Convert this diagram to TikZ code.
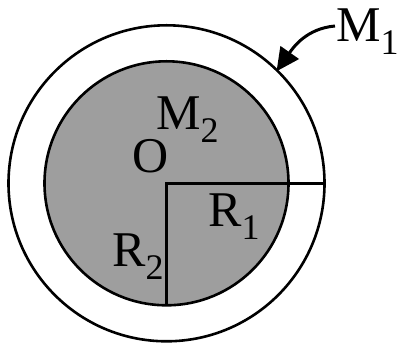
\documentclass[tikz,border=0pt]{standalone}
\usepackage{fontspec}
\setmainfont{Liberation Serif}
\usetikzlibrary{arrows.meta,calc}

\definecolor{coregray}{gray}{0.62}
\newcommand{\idx}[1]{\raisebox{-0.26em}{\fontsize{36}{40}\selectfont #1}}

\begin{document}
\begin{tikzpicture}[
            x=1pt, y=1pt,
            ln/.style={line width=2.6pt},
            lbl/.style={inner sep=0pt, anchor=base west, font=\fontsize{50}{58}\selectfont},
            pointer/.style={line width=3pt, -{Triangle[length=23pt, width=22pt]}}
        ]

        \useasboundingbox (0,0) rectangle (398,342);

        \coordinate (O) at (166.5,158.7);

        % shell and core
        \draw[ln] (O) circle (158);
        \draw[ln, fill=coregray] (O) circle (122);

        \coordinate (rim) at ($(O)+(0:158)$);
        \coordinate (base) at ($(O)+(-90:122)$);
        \coordinate (hit) at ($(O)+(45.5:157)$);

        \draw[ln] (rim) -- (O) -- (base);

        \node[lbl] (m2) at (156,212) {M\idx{2}};
        \node[lbl] (o) at (132,169) {O};
        \node[lbl] (r1) at (208,115) {R\idx{1}};
        \node[lbl] (r2) at (112,75) {R\idx{2}};
        \node[lbl] (m1) at (336,300) {M\idx{1}};

        \draw[pointer] ([xshift=-1pt,yshift=16pt]m1.base west) to[out=185, in=55] (hit);

\end{tikzpicture}
\end{document}
